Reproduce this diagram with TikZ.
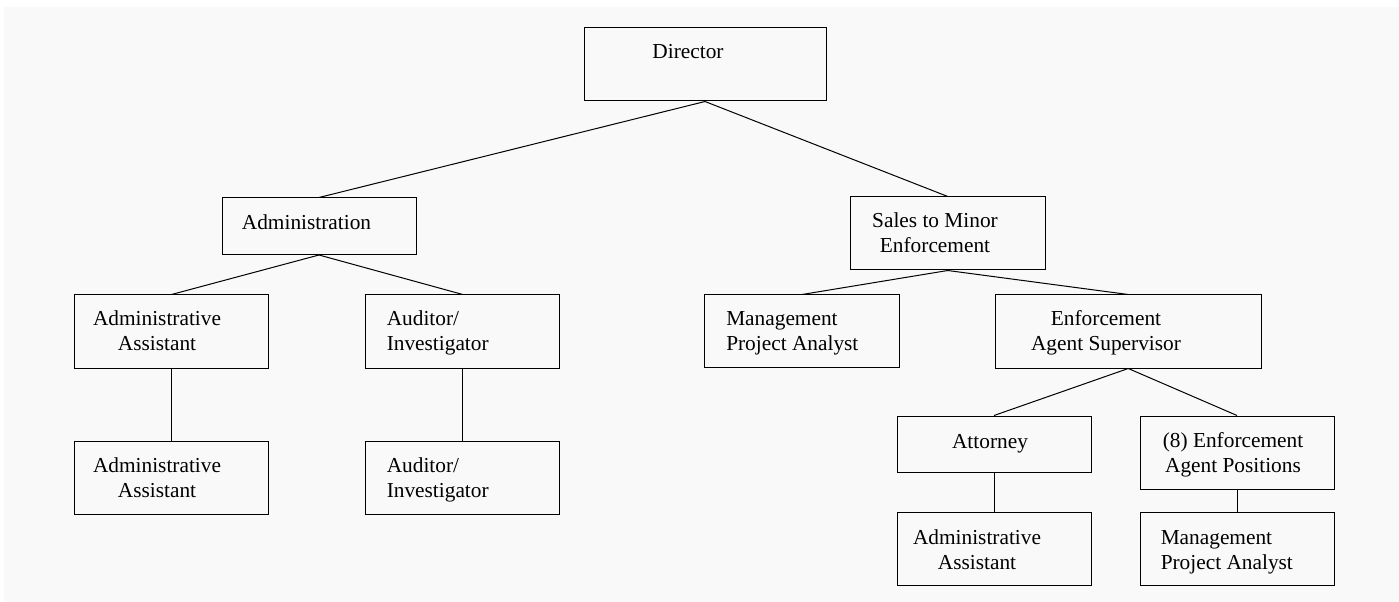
\documentclass[tikz,border=0pt]{standalone}
\usepackage{fontspec}
\setmainfont{Liberation Serif}
\usepackage{xcolor}

\begin{document}
\begin{tikzpicture}[x=0.75pt,y=0.75pt,yscale=-1,xscale=1,
    orgbox/.style 2 args={draw, line width=0.75pt, minimum width=#1*0.75pt, minimum height=#2*0.75pt, inner sep=0pt},
    lbl/.style={inner sep=0pt, font=\fontsize{16}{18.75}\selectfont},
    link/.style={line width=0.75pt}]
    \useasboundingbox (0,0) rectangle (1399,602);
    %Shape: Rectangle (page background)
    \fill [color={rgb, 255:red, 249; green, 249; blue, 249 }] (4,7) rectangle (1399,602);

    %Shape: Rectangle [dir]
    \node [orgbox={242}{73}] (dir) at (705,64.5) {};
    %Shape: Rectangle [adm]
    \node [orgbox={194}{56.5}] (adm) at (319,226.25) {};
    %Shape: Rectangle [sal]
    \node [orgbox={194.5}{73}] (sal) at (947.75,233.5) {};
    %Shape: Rectangle [aa1]
    \node [orgbox={194}{73}] (aa1) at (171.5,331.5) {};
    %Shape: Rectangle [aud1]
    \node [orgbox={194}{73}] (aud1) at (462.75,331.5) {};
    %Shape: Rectangle [aa2]
    \node [orgbox={194}{73}] (aa2) at (171.5,477.5) {};
    %Shape: Rectangle [aud2]
    \node [orgbox={194}{73}] (aud2) at (462.75,477.5) {};
    %Shape: Rectangle [mpa1]
    \node [orgbox={195}{72.5}] (mpa1) at (802,331.25) {};
    %Shape: Rectangle [eas]
    \node [orgbox={266.5}{73}] (eas) at (1128.25,331.5) {};
    %Shape: Rectangle [att]
    \node [orgbox={194}{56}] (att) at (994,444) {};
    %Shape: Rectangle [eap]
    \node [orgbox={194}{73.5}] (eap) at (1237,452.75) {};
    %Shape: Rectangle [aa3]
    \node [orgbox={194}{73.5}] (aa3) at (994,548.75) {};
    %Shape: Rectangle [mpa2]
    \node [orgbox={194}{73.5}] (mpa2) at (1237,548.75) {};

    %Straight Lines
    \draw [link] (dir.south) -- (adm.north) ;
    \draw [link] (dir.south) -- (sal.north) ;
    \draw [link] (adm.south) -- (aa1.north) ;
    \draw [link] (adm.south) -- (aud1.north) ;
    \draw [link] (aa1.south) -- (aa2.north) ;
    \draw [link] (aud1.south) -- (aud2.north) ;
    \draw [link] (sal.south) -- (mpa1.north) ;
    \draw [link] (sal.south) -- (eas.north) ;
    \draw [link] (eas.south) -- (att.north) ;
    \draw [link] (eas.south) -- (eap.north) ;
    \draw [link] (att.south) -- (aa3.north) ;
    \draw [link] (eap.south) -- (mpa2.north) ;

    % Text Node
    \node [lbl] (tdir) at (688,52) {Director};
    % Text Node
    \node [lbl] (tadm) at (306.5,222) {Administration};
    % Text Node
    \node [lbl, align=center] (tsal) at (935,232.5) {Sales to Minor\\Enforcement};
    % Text Node
    \node [lbl, align=center] (taa1) at (157,330.5) {Administrative\\Assistant};
    % Text Node
    \node [lbl, align=left, anchor=west] (taud1) at (386.5,333) {Auditor/\\Investigator};
    % Text Node
    \node [lbl, align=center] (taa2) at (157,477.5) {Administrative\\Assistant};
    % Text Node
    \node [lbl, align=left, anchor=west] (taud2) at (386.5,480) {Auditor/\\Investigator};
    % Text Node
    \node [lbl, align=left, anchor=west] (tmpa1) at (726,333) {Management\\Project Analyst};
    % Text Node
    \node [lbl, align=center] (teas) at (1106,332.5) {Enforcement\\Agent Supervisor};
    % Text Node
    \node [lbl] (tatt) at (990,443.5) {Attorney};
    % Text Node
    \node [lbl, align=center] (teap) at (1233,454.5) {(8) Enforcement\\Agent Positions};
    % Text Node
    \node [lbl, align=center] (taa3) at (977,549.5) {Administrative\\Assistant};
    % Text Node
    \node [lbl, align=left, anchor=west] (tmpa2) at (1160.5,552.5) {Management\\Project Analyst};

\end{tikzpicture}
\end{document}
